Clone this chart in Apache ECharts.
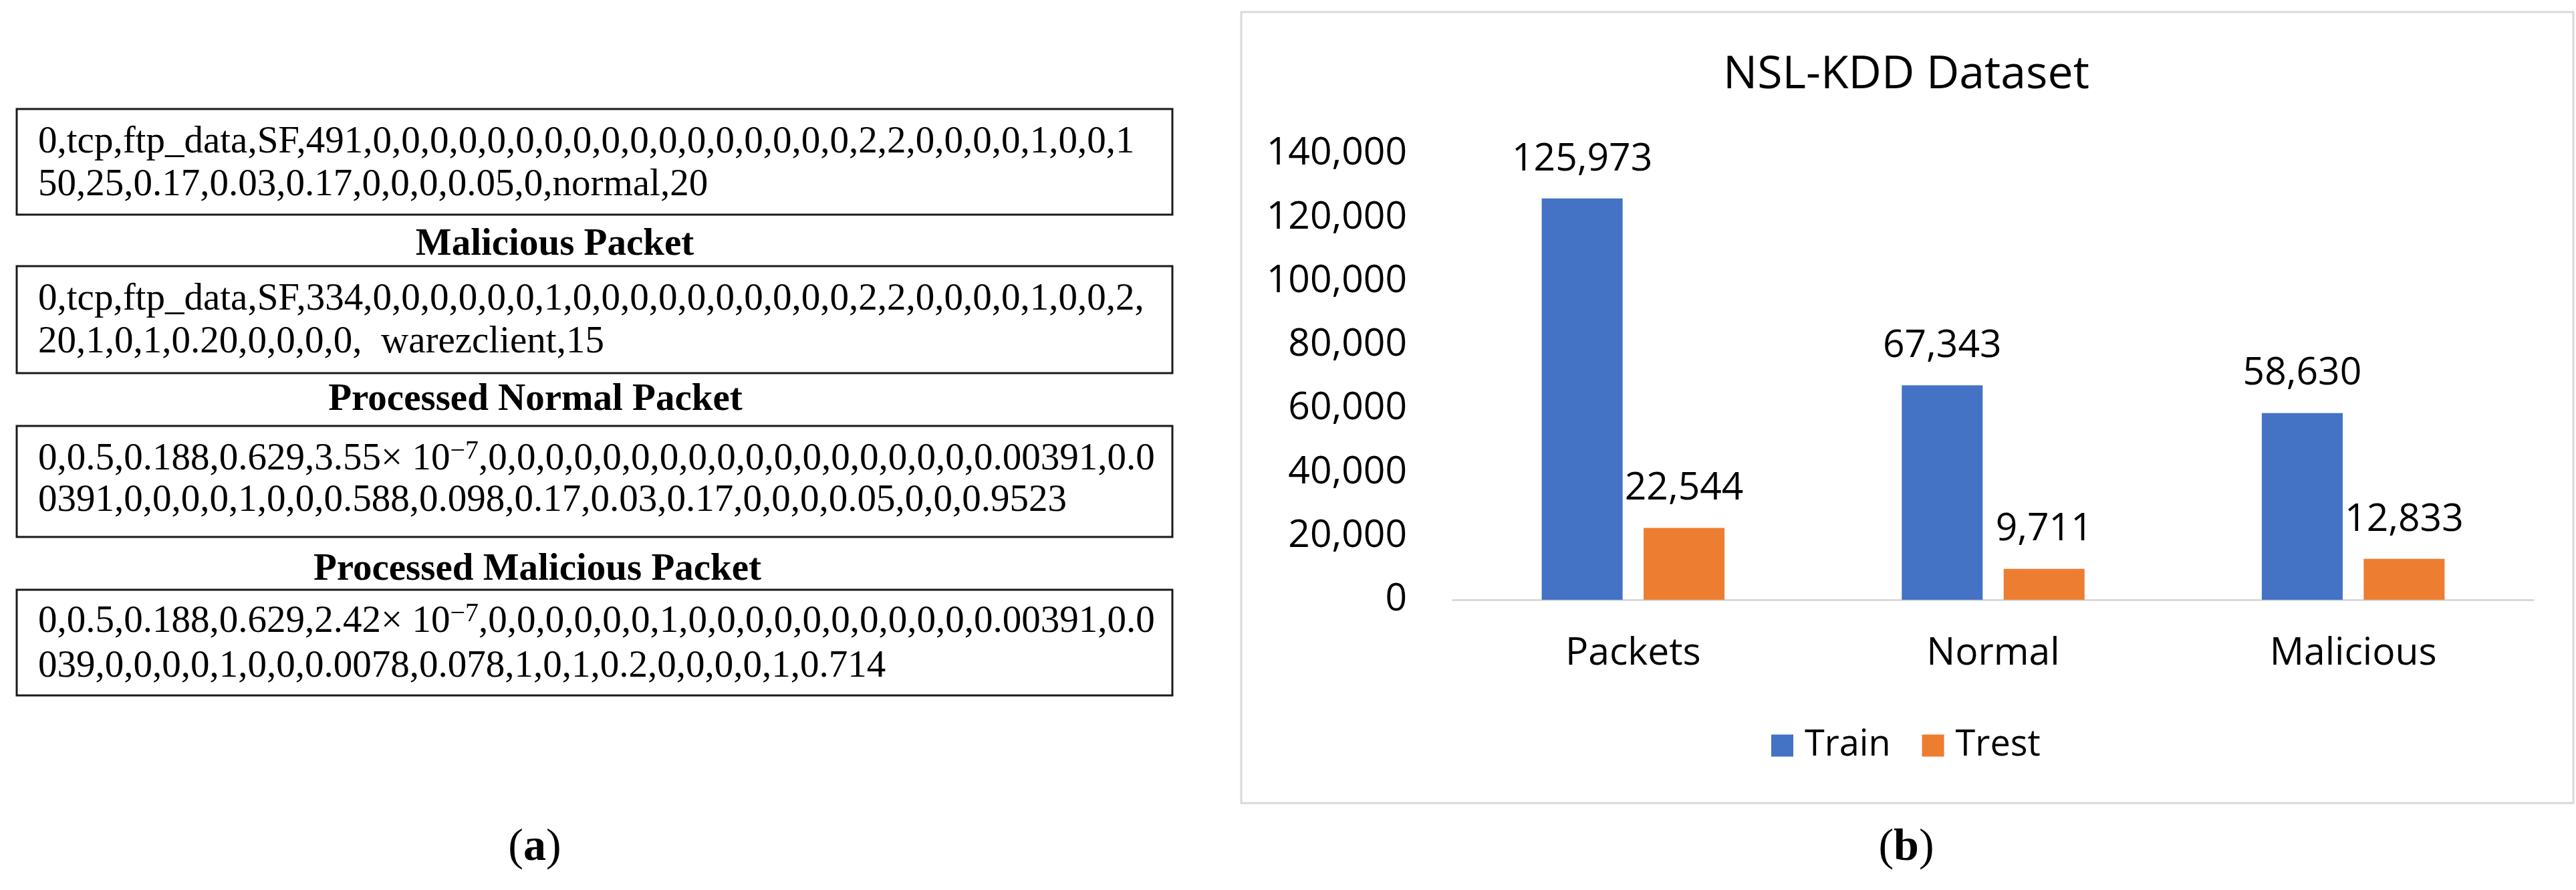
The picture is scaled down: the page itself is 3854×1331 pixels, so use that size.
<!DOCTYPE html>
<html>
<head>
<meta charset="utf-8">
<title>NSL-KDD Dataset</title>
<script src="https://cdn.jsdelivr.net/npm/echarts@6/dist/echarts.min.js"></script>
<style>
  html, body { margin: 0; padding: 0; background: #fff; }
  #chart { width: 3854px; height: 1331px; }
</style>
</head>
<body>
<div id="chart"></div>
<script>
// (b) bar chart data
var categories = ['Packets', 'Normal', 'Malicious'];
var trainValues = [125973, 67343, 58630];
var trestValues = [22544, 9711, 12833];
var seriesNames = ['Train', 'Trest'];
var yMin = 0, yMax = 140000, yStep = 20000;

// (a) sample packets, two lines per box
var packetTitles = ['Malicious Packet', 'Processed Normal Packet', 'Processed Malicious Packet'];
var packetLines = [
    ['0,tcp,ftp_data,SF,491,0,0,0,0,0,0,0,0,0,0,0,0,0,0,0,0,0,2,2,0,0,0,0,1,0,0,1',
     '50,25,0.17,0.03,0.17,0,0,0,0.05,0,normal,20'],
    ['0,tcp,ftp_data,SF,334,0,0,0,0,0,0,1,0,0,0,0,0,0,0,0,0,0,2,2,0,0,0,0,1,0,0,2,',
     '20,1,0,1,0.20,0,0,0,0,  warezclient,15'],
    ['0,0.5,0.188,0.629,3.55\u00d7 10{sup|\u22127},0,0,0,0,0,0,0,0,0,0,0,0,0,0,0,0,0,0.00391,0.0',
     '0391,0,0,0,0,1,0,0,0.588,0.098,0.17,0.03,0.17,0,0,0,0.05,0,0,0.9523'],
    ['0,0.5,0.188,0.629,2.42\u00d7 10{sup|\u22127},0,0,0,0,0,0,1,0,0,0,0,0,0,0,0,0,0,0.00391,0.0',
     '039,0,0,0,0,1,0,0,0.0078,0.078,1,0,1,0.2,0,0,0,0,1,0.714']
];

// layout of panel (a)
var boxX = 25, boxW = 1729, textX = 57;
var boxTop = [163, 398, 637, 882];
var boxH = [158, 160, 166, 158];
var lineOffset = [[50, 114], [50, 114], [50, 112], [48, 115]];
var titleCx = [830, 801, 804];
var titleY = [366, 598, 852];

var serif = '"Liberation Serif", "Times New Roman", serif';
var sans = '"Open Sans", "Noto Sans", sans-serif';

function fmt(v) {
    return Number(v).toLocaleString('en-US');
}

var graphics = [];

// border round panel (b)
graphics.push({
    type: 'rect', z: -1,
    shape: { x: 1857, y: 18, width: 1993, height: 1183 },
    style: { fill: '#fff', stroke: '#d9d9d9', lineWidth: 3 }
});
// chart title
graphics.push({
    type: 'text',
    style: { text: 'NSL-KDD Dataset', x: 2852, y: 113, textAlign: 'center', textVerticalAlign: 'middle',
             font: '68px ' + sans, fill: '#000' }
});

for (var i = 0; i < packetLines.length; i++) {
    graphics.push({
        type: 'rect',
        shape: { x: boxX, y: boxTop[i], width: boxW, height: boxH[i] },
        style: { fill: 'none', stroke: '#1a1a1a', lineWidth: 3 }
    });
    for (var j = 0; j < 2; j++) {
        graphics.push({
            type: 'text',
            style: {
                text: packetLines[i][j], x: textX, y: boxTop[i] + lineOffset[i][j],
                textAlign: 'left', textVerticalAlign: 'middle',
                font: '57px ' + serif, fill: '#000', lineHeight: 64,
                rich: { sup: { fontSize: 40, fontFamily: serif, verticalAlign: 'top', lineHeight: 26, fill: '#000' } }
            }
        });
    }
}
for (var k = 0; k < packetTitles.length; k++) {
    graphics.push({
        type: 'text',
        style: { text: packetTitles[k], x: titleCx[k], y: titleY[k], textAlign: 'center', textVerticalAlign: 'middle',
                 font: 'bold 57px ' + serif, fill: '#000' }
    });
}
// sub-figure captions
var captions = [['a', 800], ['b', 2852]];
captions.forEach(function (c) {
    graphics.push({
        type: 'text',
        style: { text: '({bl|' + c[0] + '})', x: c[1], y: 1268, textAlign: 'center', textVerticalAlign: 'middle',
                 font: '68px ' + serif, fill: '#000',
                 rich: { bl: { fontSize: 68, fontWeight: 'bold', fontFamily: serif, fill: '#000' } } }
    });
});

var chart = echarts.init(document.getElementById('chart'));
var labelStyle = {
    show: true, position: 'top', distance: 30,
    fontSize: 57, color: '#000', fontFamily: sans,
    formatter: function (p) { return fmt(p.value); }
};

var option = {
    backgroundColor: '#fff',
    animation: false,
    textStyle: { fontFamily: sans },
    graphic: graphics,
    legend: {
        data: seriesNames,
        left: 2645, top: 1083,
        itemWidth: 33, itemHeight: 33, itemGap: 47,
        icon: 'rect',
        textStyle: { fontSize: 54, color: '#000', padding: [0, 0, 0, 12] }
    },
    grid: { left: 2174, right: 64, top: 230, bottom: 434, containLabel: false },
    xAxis: {
        type: 'category',
        data: categories,
        axisLine: { lineStyle: { color: '#d9d9d9', width: 3 } },
        axisTick: { show: false },
        axisLabel: { fontSize: 57, color: '#000', margin: 52 }
    },
    yAxis: {
        type: 'value',
        min: yMin, max: yMax, interval: yStep,
        axisLine: { show: false },
        axisTick: { show: false },
        splitLine: { show: false },
        axisLabel: { fontSize: 57, color: '#000', margin: 69, formatter: fmt }
    },
    series: [
        {
            name: seriesNames[0], type: 'bar', data: trainValues,
            barWidth: 121, barGap: '26%',
            itemStyle: { color: '#4472C4' },
            label: labelStyle
        },
        {
            name: seriesNames[1], type: 'bar', data: trestValues,
            barWidth: 121, barGap: '26%',
            itemStyle: { color: '#ED7D31' },
            label: labelStyle
        }
    ]
};
chart.setOption(option);
</script>
</body>
</html>
